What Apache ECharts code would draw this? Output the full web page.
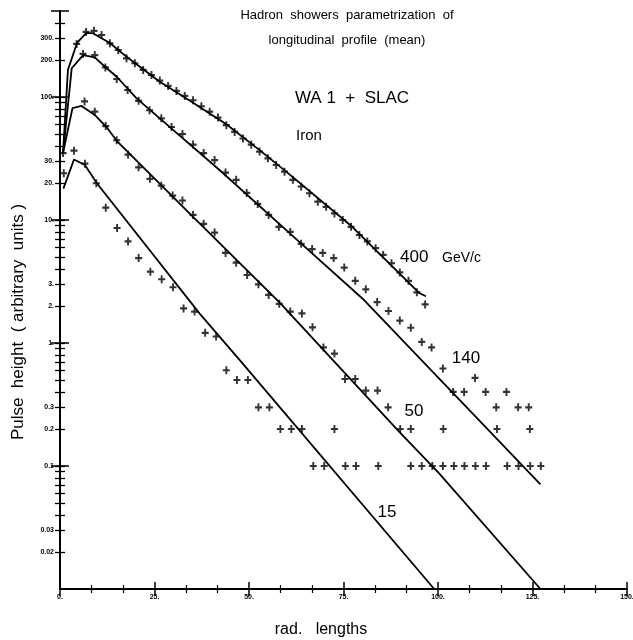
<!DOCTYPE html>
<html>
<head>
<meta charset="utf-8">
<script src="https://cdn.jsdelivr.net/npm/echarts@6/dist/echarts.min.js"></script>
<style>
  html, body { margin: 0; padding: 0; background: #fff; }
  #chart { width: 633px; height: 640px; }
</style>
</head>
<body>
<div id="chart"></div>
<script>
// depth in rad. lengths, pulse height in arbitrary units
const xTicks = [0, 25, 50, 75, 100, 125, 150]
const yLabels = [300, 200, 100, 30, 20, 10, 3, 2, 1, 0.3, 0.2, 0.1, 0.03, 0.02]
const yMinor = [400, 90, 80, 70, 60, 50, 40, 9, 8, 7, 6, 5, 4,
  0.9, 0.8, 0.7, 0.6, 0.5, 0.4, 0.09, 0.08, 0.07, 0.06, 0.05, 0.04]
const yDecades = [500, 100, 10, 1, 0.1]

// parametrization curves
const fit400 = [[0.8, 35], [2.1, 166], [4.5, 275], [6.9, 330], [8.7, 330], [13.2, 275], [17.7, 211],
  [26.4, 133], [35.1, 90], [44, 60], [52.8, 37], [60, 24.5], [77.3, 8.8], [95, 2.55], [96.8, 2.4]]
const fit140 = [[0.8, 35], [3.1, 171], [6.1, 219], [9.2, 210], [11.9, 176], [15, 146], [20.2, 98],
  [26.4, 67], [42.2, 25.5], [60, 8.2], [80, 2.3], [100.7, 0.5], [127.1, 0.071]]
const fit50 = [[0.8, 35], [3.3, 81], [5.7, 84.5], [9.2, 71.4], [12.3, 57], [15, 44], [35.2, 10.6],
  [58, 2.15], [89.7, 0.19], [100.3, 0.087], [127.1, 0.01]]
const fit15 = [[0.9, 18], [3.7, 31], [6.6, 28], [9.7, 20], [36.9, 1.74], [47.5, 0.73], [99, 0.01]]

// measured points (WA 1 + SLAC)
const data400 = [[0.8, 35], [4.4, 270], [6.9, 338], [9.0, 345], [11.0, 319], [13.2, 273], [15.4, 241],
  [17.6, 206], [19.8, 188], [22.0, 166], [24.2, 151], [26.4, 136], [28.6, 123], [30.8, 112],
  [33.0, 102], [35.2, 94], [37.4, 84], [39.6, 76], [41.8, 68], [44.0, 59], [46.2, 52], [48.4, 46],
  [50.6, 41], [52.8, 36], [55.0, 31.7], [57.2, 28], [59.4, 24.7], [61.6, 21.2], [63.8, 18.7],
  [66.0, 16.5], [68.2, 14.1], [70.4, 12.8], [72.6, 11.3], [74.8, 10], [77.0, 8.8], [79.2, 7.55],
  [81.3, 6.7], [83.5, 5.9], [85.5, 5.2], [87.7, 4.45], [89.9, 3.75], [92.2, 3.2], [94.4, 2.58],
  [96.6, 2.06]]
const data140 = [[6.1, 224], [9.2, 219], [12.0, 174], [15.0, 140], [17.9, 114], [20.8, 93], [23.7, 78],
  [26.8, 67], [29.5, 57], [32.4, 50], [35.2, 41], [38.0, 35], [40.9, 30.7], [43.8, 24.3], [46.6, 21.2],
  [49.4, 16.6], [52.3, 13.5], [55.2, 11], [57.9, 8.8], [60.9, 8.0], [63.8, 6.4], [66.7, 5.8],
  [69.5, 5.4], [72.4, 4.9], [75.2, 4.1], [78.1, 3.2], [80.9, 2.73], [83.9, 2.15], [86.9, 1.82],
  [89.9, 1.52], [92.8, 1.33], [95.7, 1.02], [98.3, 0.92], [101.3, 0.62], [104.0, 0.4], [106.9, 0.4],
  [109.8, 0.52], [112.6, 0.4], [115.4, 0.3], [115.6, 0.2], [118.1, 0.4], [121.2, 0.3], [124.0, 0.3],
  [124.3, 0.2], [121.3, 0.1], [124.4, 0.1], [127.2, 0.1]]
const data50 = [[6.5, 92], [9.2, 76], [12.1, 58], [15.0, 44.5], [18.0, 34], [20.8, 26.8], [23.8, 21.6],
  [26.8, 19], [29.8, 15.8], [32.4, 14.4], [35.2, 11], [38.0, 9.3], [40.9, 7.9], [43.8, 5.4], [46.6, 4.5],
  [49.5, 3.57], [52.5, 3.0], [55.2, 2.46], [58.0, 2.08], [60.9, 1.8], [64.0, 1.74], [66.8, 1.34],
  [69.7, 0.92], [72.6, 0.82], [75.4, 0.51], [78.1, 0.51], [80.9, 0.41], [84.0, 0.41], [86.8, 0.3],
  [90.0, 0.2], [92.8, 0.2], [101.4, 0.2], [101.3, 0.1], [104.2, 0.1], [107.0, 0.1], [109.9, 0.1],
  [112.7, 0.1], [118.3, 0.1]]
const data15 = [[1.0, 24], [3.7, 36.6], [6.6, 28.7], [9.6, 19.9], [12.1, 12.6], [15.1, 8.6], [18.0, 6.7],
  [20.8, 4.9], [23.9, 3.8], [26.9, 3.3], [29.9, 2.84], [32.7, 1.91], [35.6, 1.8], [38.4, 1.21],
  [41.3, 1.13], [44.0, 0.6], [46.8, 0.5], [49.7, 0.5], [52.5, 0.3], [55.4, 0.3], [58.3, 0.2],
  [61.2, 0.2], [64.0, 0.2], [72.6, 0.2], [67.0, 0.1], [69.9, 0.1], [75.5, 0.1], [78.3, 0.1],
  [84.2, 0.1], [92.8, 0.1], [95.7, 0.1], [98.5, 0.1]]

const chart = echarts.init(document.getElementById('chart'))

const crossSymbol = 'path://M-0.27,-1 H0.27 V-0.27 H1 V0.27 H0.27 V1 H-0.27 V0.27 H-1 V-0.27 H-0.27 Z'
const tickFont = { fontSize: 7, fontWeight: 'bold', color: '#000', fontFamily: 'Liberation Sans' }

const fmtY = (v) => {
  let best = yLabels[0]
  yLabels.forEach((l) => {
    if (Math.abs(Math.log10(l) - Math.log10(v)) < Math.abs(Math.log10(best) - Math.log10(v))) best = l
  })
  return best >= 1 ? best + '.' : String(best)
}

const yAxisBase = (extra) => Object.assign({
  type: 'log',
  logBase: 10,
  min: 0.01,
  max: 500,
  position: 'left',
  splitLine: { show: false },
  axisLine: { show: false },
  axisLabel: { show: false },
}, extra)

const xAxisBase = (extra) => Object.assign({
  type: 'value',
  min: 0,
  max: 150,
  interval: 25,
  position: 'bottom',
  splitLine: { show: false },
  axisLine: { show: false },
  axisLabel: { show: false },
}, extra)

const lineSeries = (name, data) => ({
  name,
  type: 'line',
  data,
  symbol: 'none',
  silent: true,
  lineStyle: { color: '#000', width: 1.8 },
  z: 2,
})

const crossSeries = (name, data) => ({
  name,
  type: 'scatter',
  data,
  symbol: crossSymbol,
  symbolSize: [7, 8],
  itemStyle: { color: '#000' },
  z: 3,
})

const option = {
  backgroundColor: '#fff',
  animation: false,
  grid: { left: 60, right: 6, top: 11, bottom: 51, outerBoundsMode: 'none' },
  xAxis: [
    xAxisBase({
      axisLine: { show: true, lineStyle: { color: '#000', width: 2 } },
      axisTick: { show: true, length: 7, lineStyle: { color: '#000', width: 1.5 } },
      minorTick: { show: true, splitNumber: 3, length: 4, lineStyle: { color: '#000', width: 1.2 } },
      axisLabel: Object.assign({ show: true, margin: 5, formatter: (v) => v + '.' }, tickFont),
    }),
    xAxisBase({
      axisTick: { show: true, inside: true, length: 7, lineStyle: { color: '#000', width: 1.5 } },
      minorTick: { show: true, splitNumber: 3, length: 4, lineStyle: { color: '#000', width: 1.2 } },
    }),
  ],
  yAxis: [
    yAxisBase({
      axisLine: { show: true, lineStyle: { color: '#000', width: 2 } },
      axisTick: { show: true, length: 5, customValues: yLabels.concat(yMinor), lineStyle: { color: '#000', width: 1.3 } },
      axisLabel: Object.assign({ show: true, margin: 6, customValues: yLabels, formatter: fmtY }, tickFont),
    }),
    yAxisBase({
      axisTick: { show: true, inside: true, length: 5, customValues: yLabels.concat(yMinor), lineStyle: { color: '#000', width: 1.3 } },
    }),
    yAxisBase({
      axisTick: { show: true, length: 9, customValues: yDecades, lineStyle: { color: '#000', width: 1.5 } },
    }),
    yAxisBase({
      axisTick: { show: true, inside: true, length: 9, customValues: yDecades, lineStyle: { color: '#000', width: 1.5 } },
    }),
  ],
  series: [
    lineSeries('fit 400', fit400),
    lineSeries('fit 140', fit140),
    lineSeries('fit 50', fit50),
    lineSeries('fit 15', fit15),
    crossSeries('400 GeV/c', data400),
    crossSeries('140 GeV/c', data140),
    crossSeries('50 GeV/c', data50),
    crossSeries('15 GeV/c', data15),
  ],
  graphic: [
    { type: 'text', x: 347, y: 15, style: { text: 'Hadron  showers  parametrization  of', font: '13px "Liberation Sans"', fill: '#000', align: 'center', verticalAlign: 'middle' } },
    { type: 'text', x: 347, y: 40, style: { text: 'longitudinal  profile  (mean)', font: '13px "Liberation Sans"', fill: '#000', align: 'center', verticalAlign: 'middle' } },
    { type: 'text', x: 352, y: 98, style: { text: 'WA 1  +  SLAC', font: '17px "Liberation Sans"', fill: '#000', align: 'center', verticalAlign: 'middle' } },
    { type: 'text', x: 309, y: 136, style: { text: 'Iron', font: '15px "Liberation Sans"', fill: '#000', align: 'center', verticalAlign: 'middle' } },
    { type: 'text', x: 400, y: 257, style: { text: '400', font: '17px "Liberation Sans"', fill: '#000', align: 'left', verticalAlign: 'middle' } },
    { type: 'text', x: 442, y: 258, style: { text: 'GeV/c', font: '14px "Liberation Sans"', fill: '#000', align: 'left', verticalAlign: 'middle' } },
    { type: 'text', x: 466, y: 358, style: { text: '140', font: '17px "Liberation Sans"', fill: '#000', align: 'center', verticalAlign: 'middle' } },
    { type: 'text', x: 414, y: 411, style: { text: '50', font: '17px "Liberation Sans"', fill: '#000', align: 'center', verticalAlign: 'middle' } },
    { type: 'text', x: 387, y: 512, style: { text: '15', font: '17px "Liberation Sans"', fill: '#000', align: 'center', verticalAlign: 'middle' } },
    { type: 'text', x: 18, y: 322, rotation: Math.PI / 2, style: { text: 'Pulse  height  ( arbitrary  units )', font: '17px "Liberation Sans"', fill: '#000', align: 'center', verticalAlign: 'middle' } },
    { type: 'text', x: 321, y: 630, style: { text: 'rad.   lengths', font: '16px "Liberation Sans"', fill: '#000', align: 'center', verticalAlign: 'middle' } },
  ],
}

chart.setOption(option)
</script>
</body>
</html>
